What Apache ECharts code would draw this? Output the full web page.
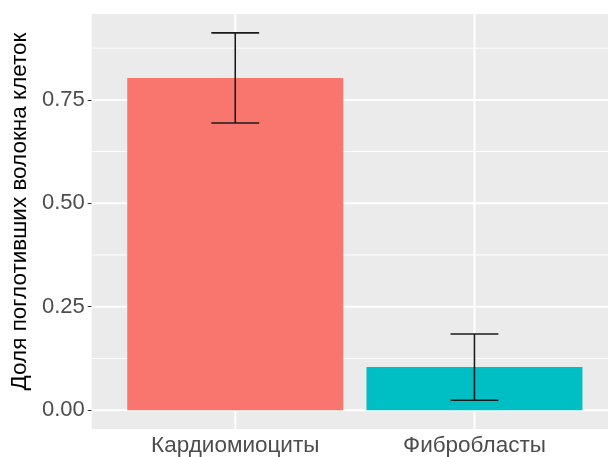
<!DOCTYPE html>
<html>
<head>
<meta charset="utf-8">
<script src="https://cdn.jsdelivr.net/npm/echarts@6/dist/echarts.min.js"></script>
<style>html,body{margin:0;padding:0;background:#fff}#c{width:608px;height:457px}</style>
</head>
<body>
<div id="c"></div>
<script>
var categories = ['Кардиомиоциты', 'Фибробласты'];
var means = [0.803, 0.104];
var errors = [0.109, 0.080];
var barColors = ['#F8766D', '#00BFC4'];
var yTicks = [0, 0.25, 0.5, 0.75];
var yMinor = [0.125, 0.375, 0.625, 0.875];
var xPositions = [1, 2];
var yTitle = 'Доля поглотивших волокна клеток';

var chart = echarts.init(document.getElementById('c'), null, {renderer: 'canvas'});
var fontFam = '"Liberation Sans", Arial, sans-serif';

// gridline specs: [orientation(0 = horizontal y, 1 = vertical x), value, width]
var gridLines = [];
yMinor.forEach(function (v) { gridLines.push([0, v, 1]); });
yTicks.forEach(function (v) { gridLines.push([0, v, 2]); });
xPositions.forEach(function (v) { gridLines.push([1, v, 2]); });

var barData = means.map(function (m, i) {
  return {value: [xPositions[i], m], itemStyle: {color: barColors[i]}};
});
var errData = means.map(function (m, i) {
  return [xPositions[i], m - errors[i], m + errors[i]];
});

chart.setOption({
  animation: false,
  backgroundColor: '#ffffff',
  grid: {left: 90, right: 0, top: 14, bottom: 28, show: true, backgroundColor: '#EBEBEB', borderWidth: 0, containLabel: false},
  xAxis: {
    type: 'value', min: 0.4, max: 2.5583,
    axisLine: {show: false},
    splitLine: {show: false},
    axisTick: {show: true, customValues: xPositions, length: 4, lineStyle: {color: '#333333', width: 1}},
    axisLabel: {
      customValues: xPositions, margin: 5,
      color: '#4D4D4D', fontSize: 22.5, fontFamily: fontFam,
      formatter: function (v) { return categories[Math.round(v) - 1]; }
    }
  },
  yAxis: {
    type: 'value', min: -0.0456, max: 0.9576,
    name: yTitle, nameLocation: 'middle', nameGap: 53,
    nameTextStyle: {color: '#000000', fontSize: 22.5, fontFamily: fontFam, padding: [0, 0, 0, 20]},
    axisLine: {show: false},
    splitLine: {show: false},
    axisTick: {show: true, customValues: yTicks, length: 4, lineStyle: {color: '#333333', width: 1}},
    axisLabel: {
      customValues: yTicks, margin: 7,
      color: '#4D4D4D', fontSize: 22, fontFamily: fontFam,
      formatter: function (v) { return v.toFixed(2); }
    }
  },
  series: [
    {
      type: 'custom', z: 1, silent: true, data: gridLines,
      renderItem: function (params, api) {
        var cs = params.coordSys;
        var o = api.value(0), v = api.value(1), w = api.value(2);
        var shape;
        if (o === 0) {
          var y = api.coord([1, v])[1];
          shape = {x1: cs.x, y1: y, x2: cs.x + cs.width, y2: y};
        } else {
          var x = api.coord([v, 0])[0];
          shape = {x1: x, y1: cs.y, x2: x, y2: cs.y + cs.height};
        }
        return {type: 'line', shape: shape, style: {stroke: '#FFFFFF', lineWidth: w}};
      }
    },
    {
      type: 'bar', data: barData, barWidth: 216, z: 2, silent: true
    },
    {
      type: 'custom', z: 3, silent: true,
      data: errData,
      renderItem: function (params, api) {
        var x = api.value(0), lo = api.value(1), hi = api.value(2);
        var pLo = api.coord([x, lo]), pHi = api.coord([x, hi]);
        var half = api.size([0.1, 0])[0];
        var st = {stroke: '#1A1A1A', lineWidth: 1.6};
        return {type: 'group', children: [
          {type: 'line', shape: {x1: pLo[0], y1: pLo[1], x2: pHi[0], y2: pHi[1]}, style: st},
          {type: 'line', shape: {x1: pLo[0] - half, y1: pLo[1], x2: pLo[0] + half, y2: pLo[1]}, style: st},
          {type: 'line', shape: {x1: pHi[0] - half, y1: pHi[1], x2: pHi[0] + half, y2: pHi[1]}, style: st}
        ]};
      }
    }
  ]
});
</script>
</body>
</html>
